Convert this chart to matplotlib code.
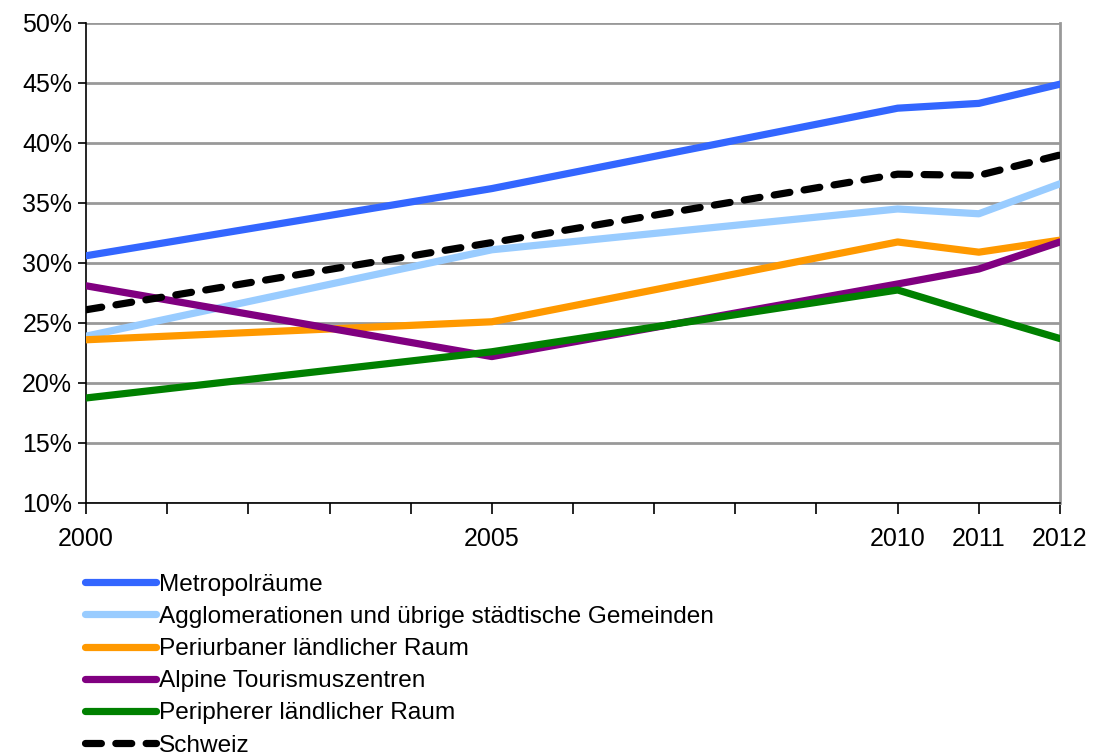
import matplotlib.pyplot as plt
from matplotlib.ticker import FixedLocator, PercentFormatter

plt.rcParams['font.family'] = ['Liberation Sans', 'DejaVu Sans']

years = [2000, 2005, 2010, 2011, 2012]
metropol = [30.6, 36.2, 42.9, 43.3, 44.9]
agglo = [23.9, 31.1, 34.5, 34.1, 36.6]
periurban = [23.6, 25.1, 31.75, 30.9, 31.9]
alpine = [28.1, 22.2, 28.25, 29.5, 31.75]
peripher = [18.75, 22.6, 27.75, 25.7, 23.7]
schweiz = [26.1, 31.7, 37.4, 37.3, 39.0]

labels = ["Metropolräume",
          "Agglomerationen und übrige städtische Gemeinden",
          "Periurbaner ländlicher Raum",
          "Alpine Tourismuszentren",
          "Peripherer ländlicher Raum",
          "Schweiz"]
colors = ["#3366FF", "#99CCFF", "#FF9900", "#800080", "#008000", "black"]

fig = plt.figure(figsize=(10.93, 7.56), dpi=100)
ax = fig.add_axes([0.0787, 0.3347, 0.8911, 0.6349])

series = [metropol, agglo, periurban, alpine, peripher, schweiz]
for vals, lab, col in zip(series, labels, colors):
    if lab == "Schweiz":
        ax.plot(years, vals, color=col, lw=5.2, ls=(0, (2.2, 2.0)), dash_capstyle='round',
                label=lab, zorder=4)
    else:
        ax.plot(years, vals, color=col, lw=5.2, label=lab, solid_capstyle='round', zorder=3)

ax.set_xlim(2000, 2012)
ax.set_ylim(10, 50)
ax.set_yticks(range(10, 51, 5))
ax.yaxis.set_major_formatter(PercentFormatter(decimals=0))
ax.set_xticks(years)
ax.xaxis.set_minor_locator(FixedLocator(range(2000, 2013)))
ax.tick_params(axis='both', which='both', direction='out', color='black', width=1.2)
ax.tick_params(axis='y', length=6, labelsize=18, pad=4)
ax.tick_params(axis='x', which='both', length=8, labelsize=18, pad=9)
ax.grid(axis='y', color='#999999', lw=2, zorder=1)
ax.set_axisbelow(True)
ax.spines['top'].set_visible(False)
ax.spines['right'].set_color('#999999')
ax.spines['right'].set_linewidth(2)
ax.spines['left'].set_linewidth(1.2)
ax.spines['bottom'].set_linewidth(1.2)

ax.legend(loc='upper left', bbox_to_anchor=(0.078, 0.241), bbox_transform=fig.transFigure,
          frameon=False, fontsize=17.6, handlelength=2.9, handletextpad=0.1,
          labelspacing=0.41, borderpad=0, borderaxespad=0)

fig.savefig("out.png", dpi=100)
